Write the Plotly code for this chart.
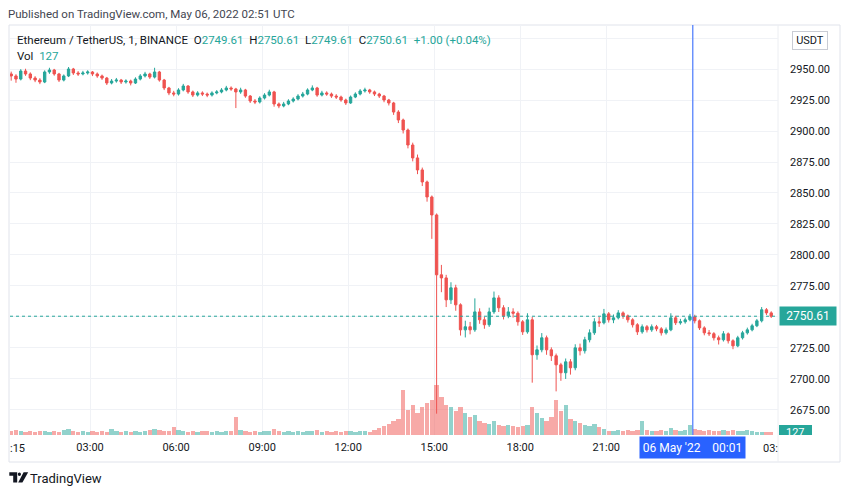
import plotly.graph_objects as go
import pandas as pd

# ---- data (10-minute candles) ----
start_time = "2022-05-05 00:15"
n_candles = 160
times = pd.date_range(start_time, periods=n_candles, freq="10min")

closes = [
    2944.4, 2941.9, 2948.4, 2946.0, 2942.7, 2941.1, 2939.5, 2947.6, 2949.2, 2946.0,
    2941.1, 2944.4, 2950.0, 2946.8, 2946.0, 2946.8, 2947.6, 2946.0, 2944.4, 2942.7,
    2938.7, 2940.3, 2941.1, 2939.5, 2940.3, 2938.7, 2941.9, 2944.4, 2946.0, 2943.5,
    2947.6, 2941.1, 2934.7, 2930.7, 2929.8, 2933.1, 2936.3, 2931.5, 2929.0, 2930.7,
    2929.8, 2929.0, 2930.7, 2931.5, 2933.1, 2934.7, 2933.9, 2931.5, 2933.1, 2928.2,
    2924.2, 2923.4, 2926.6, 2929.0, 2931.5, 2921.8, 2920.2, 2921.8, 2924.2, 2925.8,
    2928.2, 2929.8, 2933.1, 2934.7, 2929.0, 2930.7, 2929.8, 2928.2, 2927.4, 2925.0,
    2922.6, 2927.4, 2929.8, 2932.3, 2933.1, 2931.5, 2929.8, 2928.2, 2925.0, 2922.6,
    2915.3, 2908.9, 2900.8, 2888.7, 2878.3, 2868.6, 2858.9, 2846.8, 2832.3, 2784.0,
    2781.5, 2763.8, 2773.5, 2759.8, 2739.6, 2742.1, 2739.6, 2754.1, 2747.7, 2743.7,
    2754.1, 2765.4, 2757.4, 2750.9, 2754.1, 2753.0, 2746.1, 2738.0, 2747.7, 2719.5,
    2723.5, 2733.2, 2723.5, 2718.7, 2711.4, 2705.0, 2713.8, 2709.0, 2725.1, 2722.7,
    2731.6, 2737.2, 2746.1, 2745.3, 2752.5, 2747.7, 2749.3, 2753.3, 2750.9, 2747.7,
    2743.7, 2738.0, 2742.1, 2739.6, 2742.1, 2740.4, 2737.2, 2739.6, 2749.3, 2745.3,
    2746.1, 2747.7, 2750.1, 2746.9, 2741.2, 2737.2, 2736.5, 2733.2, 2731.6, 2736.4,
    2730.8, 2726.7, 2733.2, 2737.2, 2739.6, 2742.9, 2746.9, 2755.8, 2753.3, 2750.61,
]
highs = [
    2947.9, 2945.8, 2949.9, 2950.2, 2947.3, 2944.2, 2942.6, 2948.9, 2951.0, 2950.1,
    2946.9, 2945.6, 2951.6, 2950.9, 2948.3, 2948.5, 2949.0, 2948.4, 2947.2, 2945.5,
    2943.6, 2941.9, 2942.8, 2942.0, 2941.7, 2941.4, 2943.3, 2945.9, 2947.7, 2947.0,
    2951.0, 2948.5, 2942.0, 2935.6, 2932.4, 2934.5, 2938.0, 2937.0, 2932.6, 2932.1,
    2932.0, 2931.0, 2932.0, 2933.0, 2934.6, 2936.4, 2936.0, 2934.8, 2934.9, 2934.0,
    2929.0, 2925.8, 2928.0, 2930.5, 2933.3, 2932.4, 2923.0, 2923.5, 2925.6, 2927.2,
    2929.7, 2931.5, 2934.4, 2936.8, 2935.6, 2932.4, 2932.0, 2931.0, 2929.7, 2928.5,
    2926.1, 2928.6, 2931.2, 2933.8, 2934.9, 2934.0, 2932.6, 2930.8, 2929.1, 2925.9,
    2923.5, 2916.8, 2910.0, 2902.0, 2890.6, 2881.0, 2870.5, 2860.0, 2848.0, 2833.5,
    2792.0, 2784.0, 2778.0, 2776.0, 2761.0, 2747.0, 2746.0, 2765.0, 2757.0, 2750.0,
    2757.5, 2770.5, 2767.5, 2759.5, 2758.0, 2757.0, 2754.5, 2747.5, 2753.0, 2750.0,
    2727.0, 2737.0, 2735.0, 2725.5, 2720.5, 2713.0, 2716.5, 2716.0, 2728.0, 2728.5,
    2734.0, 2740.0, 2749.0, 2750.0, 2756.5, 2754.0, 2752.0, 2755.5, 2754.5, 2752.0,
    2749.0, 2745.0, 2744.0, 2743.5, 2744.0, 2743.6, 2741.8, 2741.5, 2753.0, 2751.0,
    2748.5, 2749.5, 2752.5, 2751.8, 2748.0, 2742.5, 2739.5, 2737.8, 2735.0, 2738.6,
    2737.5, 2732.0, 2734.8, 2738.8, 2741.4, 2744.5, 2748.4, 2758.0, 2757.2, 2754.6,
]
lows = [
    2940.6, 2938.9, 2940.8, 2944.5, 2941.0, 2939.4, 2937.8, 2938.6, 2946.1, 2944.6,
    2939.5, 2940.0, 2943.5, 2945.2, 2944.4, 2944.9, 2945.5, 2944.3, 2942.9, 2941.2,
    2937.1, 2937.6, 2939.0, 2937.9, 2938.2, 2936.8, 2937.9, 2940.8, 2943.2, 2942.0,
    2942.4, 2939.8, 2933.0, 2928.9, 2928.0, 2928.6, 2932.0, 2930.0, 2927.4, 2927.8,
    2928.2, 2927.3, 2927.8, 2929.6, 2930.4, 2932.0, 2932.4, 2918.5, 2930.0, 2926.8,
    2922.6, 2921.7, 2922.2, 2925.4, 2927.9, 2919.6, 2918.4, 2919.1, 2920.8, 2923.0,
    2924.7, 2927.0, 2928.8, 2932.1, 2927.6, 2927.9, 2928.4, 2926.7, 2925.8, 2923.6,
    2921.0, 2921.9, 2926.5, 2928.7, 2931.0, 2930.0, 2928.2, 2926.6, 2923.2, 2920.6,
    2913.0, 2906.4, 2898.0, 2886.0, 2875.5, 2865.2, 2855.6, 2843.0, 2813.0, 2672.0,
    2770.0, 2758.0, 2760.5, 2755.0, 2735.0, 2733.5, 2736.0, 2738.0, 2744.5, 2740.5,
    2742.0, 2752.5, 2754.0, 2748.0, 2749.0, 2749.5, 2743.0, 2735.5, 2736.5, 2697.0,
    2715.5, 2721.5, 2719.5, 2714.5, 2690.0, 2698.5, 2700.0, 2703.5, 2707.0, 2719.0,
    2720.5, 2729.5, 2735.5, 2742.0, 2744.0, 2745.5, 2745.0, 2748.0, 2748.5, 2745.5,
    2741.5, 2735.5, 2736.5, 2737.5, 2738.0, 2738.5, 2735.0, 2735.8, 2738.5, 2743.5,
    2743.8, 2744.6, 2746.5, 2744.8, 2739.5, 2735.2, 2734.6, 2731.0, 2727.8, 2730.2,
    2728.6, 2724.0, 2725.6, 2731.8, 2735.8, 2738.4, 2741.8, 2745.6, 2751.6, 2749.2,
]
first_open = 2946.0
opens = [first_open] + closes[:-1]

volumes = [
    1200, 1500, 1200, 900, 1200, 900, 1200, 1200, 900, 1200,
    900, 1500, 1800, 1200, 900, 1200, 900, 1200, 900, 1200,
    900, 1800, 1200, 900, 1200, 900, 1200, 900, 1200, 1500,
    1800, 1500, 1200, 1200, 2400, 1500, 1200, 900, 1200, 900,
    1200, 1200, 900, 1200, 900, 1200, 1200, 5400, 1500, 1200,
    900, 1200, 900, 1200, 1200, 1800, 1200, 900, 1200, 900,
    1200, 900, 1200, 1200, 1500, 900, 1200, 900, 1200, 900,
    1200, 1200, 900, 1200, 1200, 900, 1500, 2100, 2700, 3300,
    4200, 4800, 13500, 7500, 9000, 6600, 8400, 9600, 10500, 15000,
    11400, 9000, 8400, 7200, 8400, 6600, 5400, 6000, 4200, 3600,
    3300, 4200, 3000, 2700, 3000, 2700, 2400, 2700, 3000, 8400,
    6600, 5100, 4200, 5400, 10500, 7200, 9000, 4800, 4200, 3600,
    3000, 2700, 3300, 2400, 1800, 1200, 1200, 1500, 1200, 1500,
    1200, 1500, 4200, 1500, 1200, 1200, 1500, 1200, 2100, 1500,
    1200, 1500, 3000, 1800, 1500, 1200, 1500, 1200, 1200, 1500,
    1200, 1500, 1200, 1200, 1500, 1200, 900, 900, 900, 900,
]

y_ticks = [2675, 2700, 2725, 2750, 2775, 2800, 2825, 2850, 2875, 2900, 2925, 2950, 2975]
y_tick_text = ["2675.00", "2700.00", "2725.00", "", "2775.00", "2800.00", "2825.00", "2850.00",
               "2875.00", "2900.00", "2925.00", "2950.00", ""]
x_tick_vals = ["2022-05-05 03:00", "2022-05-05 06:00", "2022-05-05 09:00", "2022-05-05 12:00",
               "2022-05-05 15:00", "2022-05-05 18:00", "2022-05-05 21:00", "2022-05-06 00:00"]
x_tick_text = ["03:00", "06:00", "09:00", "12:00", "15:00", "18:00", "21:00", ""]
last_price = 2750.61
last_volume = 127
marker_time = "2022-05-06 00:01"
marker_label = "06 May '22\u00a0\u00a0\u00a0\u00a000:01"

# ---- style ----
UP = "#26a69a"
DOWN = "#ef5350"
UP_V = "rgba(38,166,154,0.5)"
DOWN_V = "rgba(239,83,80,0.5)"
TXT = "#131722"
GRID = "#f0f2f6"
BORDER = "#e0e3eb"
FONT = "Roboto"

OFF = 8  # page body margin of the html page
W, H = 850 - OFF, 495 - OFF
ML, MT = 10 - OFF, 25 - OFF
PLOT_RIGHT, PLOT_BOTTOM = 778 - OFF, 435 - OFF
MR, MB = W - PLOT_RIGHT, H - PLOT_BOTTOM
PW = PLOT_RIGHT - ML
PH = PLOT_BOTTOM - MT


def px(X):
    """screen pixel x -> paper coordinate"""
    return (X - OFF - ML) / PW


def py(Y):
    """screen pixel y -> paper coordinate"""
    return (PLOT_BOTTOM - (Y - OFF)) / PH


vol_colors = [UP_V if c >= o else DOWN_V for o, c in zip(opens, closes)]

fig = go.Figure()
fig.add_trace(go.Bar(
    x=times, y=volumes, yaxis="y2", marker=dict(color=vol_colors, line=dict(width=0)),
    width=9 * 60 * 1000, hoverinfo="skip", showlegend=False,
))
fig.add_trace(go.Candlestick(
    x=times, open=opens, high=highs, low=lows, close=closes,
    increasing=dict(line=dict(color=UP, width=1), fillcolor=UP),
    decreasing=dict(line=dict(color=DOWN, width=1), fillcolor=DOWN),
    whiskerwidth=0, showlegend=False, hoverinfo="skip",
))

shapes = [
    dict(type="line", xref="paper", yref="y", x0=0, x1=1, y0=last_price, y1=last_price,
         line=dict(color=UP, width=1, dash="dot"), layer="above"),
    dict(type="line", xref="x", yref="paper", x0=marker_time, x1=marker_time, y0=0, y1=1,
         line=dict(color="#2962ff", width=1), layer="above"),
    dict(type="rect", xref="paper", yref="paper", x0=px(9), x1=px(840), y0=py(462), y1=py(25),
         line=dict(color=BORDER, width=1), layer="below"),
    dict(type="line", xref="paper", yref="paper", x0=px(778), x1=px(778), y0=py(462), y1=py(25),
         line=dict(color="#eceef2", width=1), layer="below"),
    dict(type="rect", xref="paper", yref="paper", x0=px(779), x1=px(812), y0=py(435), y1=py(425),
         fillcolor=UP, line=dict(width=0), layer="above"),
]


def path(points):
    return "M " + " L ".join(f"{px(a):.5f},{py(b):.5f}" for a, b in points) + " Z"


shapes += [
    dict(type="path", xref="paper", yref="paper",
         path=path([(9.3, 472.3), (17.2, 472.3), (17.2, 482.5), (13.2, 482.5), (13.2, 475.8), (9.3, 475.8)]),
         fillcolor=TXT, line=dict(width=0)),
    dict(type="circle", xref="paper", yref="paper", x0=px(17.8), x1=px(21.0), y0=py(476.0), y1=py(472.6),
         fillcolor=TXT, line=dict(width=0)),
    dict(type="path", xref="paper", yref="paper",
         path=path([(23.6, 472.3), (28.2, 472.3), (22.4, 482.5), (18.2, 482.5)]),
         fillcolor=TXT, line=dict(width=0)),
]

teal = f"<span style='color:{UP}'>"
header = ("Ethereum / TetherUS, 1, BINANCE\u00a0\u00a0O" + teal + "2749.61</span>\u00a0\u00a0H" + teal +
          "2750.61</span>\u00a0\u00a0L" + teal + "2749.61</span>\u00a0\u00a0C" + teal +
          "2750.61</span>\u00a0\u00a0" + teal + "+1.00 (+0.04%)</span>")

annotations = [
    dict(xref="paper", yref="paper", x=px(6), y=py(14), xanchor="left", yanchor="middle",
         text="Published on TradingView.com, May 06, 2022 02:51 UTC", showarrow=False,
         font=dict(family=FONT, size=11.5, color="#434651")),
    dict(xref="paper", yref="paper", x=px(15), y=py(40), xanchor="left", yanchor="middle",
         text=header, showarrow=False, font=dict(family=FONT, size=11.5, color=TXT)),
    dict(xref="paper", yref="paper", x=px(15), y=py(56), xanchor="left", yanchor="middle",
         text="Vol\u00a0\u00a0" + teal + str(last_volume) + "</span>", showarrow=False,
         font=dict(family=FONT, size=11.5, color=TXT)),
    dict(xref="paper", yref="y", x=px(779), y=last_price, xanchor="left", yanchor="middle",
         text=f"{last_price:.2f}", showarrow=False, bgcolor=UP, width=52, height=14, borderpad=2,
         font=dict(family=FONT, size=12, color="white")),
    dict(xref="paper", yref="paper", x=px(795.5), y=py(432), xanchor="center", yanchor="middle",
         text=str(last_volume), showarrow=False, font=dict(family=FONT, size=11, color="white")),
    dict(xref="paper", yref="paper", x=px(810), y=py(40), xanchor="center", yanchor="middle",
         text="USDT", showarrow=False, bgcolor="white", bordercolor="#c9ccd4", borderwidth=1,
         width=30, height=13, borderpad=2, font=dict(family=FONT, size=11, color=TXT)),
    dict(xref="x", yref="paper", x=marker_time, y=py(447.5), xanchor="center", yanchor="middle",
         text=marker_label, showarrow=False, bgcolor="#2962ff", width=101, height=17, borderpad=2,
         font=dict(family=FONT, size=12, color="white")),
    dict(xref="paper", yref="paper", x=px(8), y=py(448), xanchor="left", yanchor="middle",
         text=":15", showarrow=False, font=dict(family=FONT, size=11, color=TXT)),
    dict(xref="paper", yref="paper", x=px(780), y=py(448), xanchor="right", yanchor="middle",
         text="03:", showarrow=False, font=dict(family=FONT, size=11, color=TXT)),
    dict(xref="paper", yref="paper", x=px(28), y=py(478), xanchor="left", yanchor="middle",
         text="TradingView", showarrow=False, font=dict(family=FONT, size=13, color=TXT)),
]

fig.update_layout(
    width=W, height=H,
    margin=dict(l=ML, r=MR, t=MT, b=MB, autoexpand=False),
    paper_bgcolor="white", plot_bgcolor="white",
    showlegend=False, hovermode=False,
    font=dict(family=FONT, size=11, color=TXT),
    xaxis=dict(
        type="date", range=["2022-05-05 00:12:30", "2022-05-06 02:59:10"],
        rangeslider=dict(visible=False),
        tickvals=x_tick_vals, ticktext=x_tick_text,
        showgrid=True, gridcolor=GRID, gridwidth=1, zeroline=False, showline=False,
        ticks="", ticklabelstandoff=4, tickfont=dict(family=FONT, size=11, color=TXT),
    ),
    yaxis=dict(
        side="right", range=[2654.8, 2985.5], tickvals=y_ticks, ticktext=y_tick_text,
        showgrid=True, gridcolor=GRID, gridwidth=1, zeroline=False, showline=False,
        ticks="", ticklabelstandoff=11, tickfont=dict(family=FONT, size=11, color=TXT),
    ),
    yaxis2=dict(overlaying="y", range=[0, 123000], visible=False, fixedrange=True),
    shapes=shapes,
    annotations=annotations,
    bargap=0,
)

fig.write_html("out.html")
